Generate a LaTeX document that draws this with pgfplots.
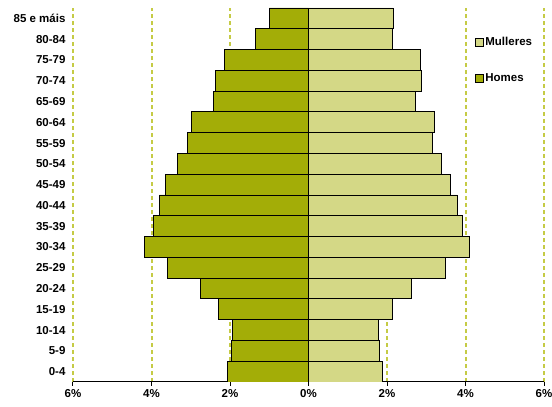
\documentclass[border=0pt]{standalone}
\usepackage{pgfplots}
\pgfplotsset{compat=1.18}
\usepackage{fontspec}
\setmainfont{Liberation Sans}
\definecolor{men}{HTML}{A3AD07}
\definecolor{women}{HTML}{D4D886}
\definecolor{gridc}{HTML}{C5CB45}
\begin{document}
\begin{tikzpicture}
\begin{axis}[
  scale only axis, width=471pt, height=374pt,
  xmin=-6, xmax=6, ymin=-0.5, ymax=17.5,
  xtick={-6,-4,-2,0,2,4,6},
  xticklabels={6\%,4\%,2\%,0\%,2\%,4\%,6\%},
  ytick={0,...,17},
  yticklabels={0-4,5-9,10-14,15-19,20-24,25-29,30-34,35-39,40-44,45-49,50-54,55-59,60-64,65-69,70-74,75-79,80-84,85 e máis},
  xbar, bar width=1, bar shift=0,
  axis lines*=left,
  x axis line style={-, black, line width=1pt},
  y axis line style={draw=none},
  major y tick style={draw=none},
  major x tick style={black, line width=1pt},
  tick align=outside, major tick length=4pt,
  xmajorgrids,
  major grid style={draw=gridc, solid, line width=2pt, dash pattern=on 4pt off 3pt},
  tick label style={font=\bfseries\fontsize{11.5}{13}\selectfont},
  legend style={at={(axis cs:4.15,16.3)}, anchor=north west, draw=none, fill=none,
    font=\bfseries\fontsize{11.5}{13}\selectfont, row sep=23pt},
  legend cell align=left,
  legend image code/.code={\draw[#1,draw=black,line width=0.8pt] (0pt,-4pt) rectangle (8pt,4pt);},
]
\addplot[fill=women, draw=black, line width=0.9pt] coordinates {
(1.88,0) (1.80,1) (1.78,2) (2.14,3) (2.62,4) (3.49,5) (4.10,6) (3.92,7) (3.79,8) (3.61,9) (3.38,10) (3.15,11) (3.20,12) (2.73,13) (2.88,14) (2.86,15) (2.14,16) (2.16,17)};
\addlegendentry{Mulleres}
\addplot[fill=men, draw=black, line width=0.9pt] coordinates {
(-2.07,0) (-1.97,1) (-1.94,2) (-2.30,3) (-2.75,4) (-3.60,5) (-4.18,6) (-3.95,7) (-3.80,8) (-3.65,9) (-3.34,10) (-3.09,11) (-2.99,12) (-2.43,13) (-2.37,14) (-2.14,15) (-1.36,16) (-1.00,17)};
\addlegendentry{Homes}
\end{axis}
\pgfresetboundingbox
\path (-73pt,-25pt) rectangle (479pt,382pt);
\end{tikzpicture}
\end{document}
